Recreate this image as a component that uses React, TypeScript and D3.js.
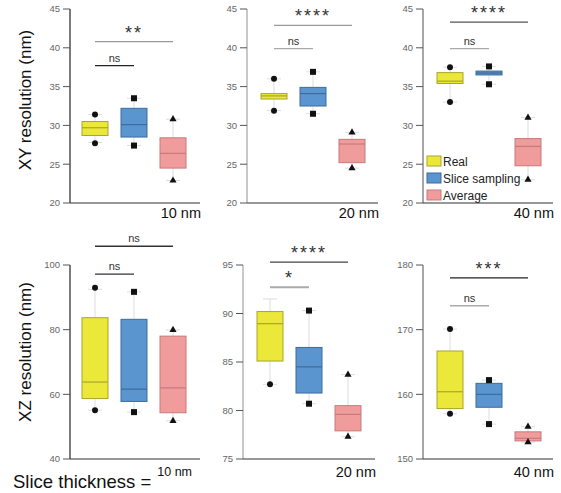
import React from 'react';
import * as d3 from 'd3';

// groups and colours
const groups = ['Real', 'Slice sampling', 'Average'];
const fills = ['#ece83a', '#5b95d0', '#f19c9c'];
const strokes = ['#a9a52c', '#3d6b9c', '#c57a7a'];
const shapes = ['circle', 'square', 'triangle'];

// tick values
const xyTicks = [20, 25, 30, 35, 40, 45];
const xz10Ticks = [40, 60, 80, 100];
const xz20Ticks = [75, 80, 85, 90, 95];
const xz40Ticks = [150, 160, 170, 180];

// box stats per group: [whisker low, q1, median, q3, whisker high]
const xy10Box = [[27.8, 28.7, 29.7, 30.5, 31.4], [27.4, 28.5, 30.1, 32.2, 33.5], [22.9, 24.5, 26.4, 28.4, 30.8]];
const xy20Box = [[31.9, 33.4, 33.8, 34.1, 36.0], [31.5, 32.5, 34.1, 34.9, 36.9], [24.5, 25.2, 27.6, 28.2, 29.1]];
const xy40Box = [[33.0, 35.4, 35.7, 36.8, 37.5], [35.3, 36.5, 36.75, 37.0, 37.6], [23.0, 24.8, 27.3, 28.3, 31.0]];
const xz10Box = [[55.1, 58.7, 63.8, 83.7, 92.5], [54.5, 57.8, 61.6, 83.2, 91.7], [51.8, 54.3, 62.0, 78.0, 79.9]];
const xz20Box = [[82.7, 85.1, 88.95, 90.2, 91.5], [80.7, 81.8, 84.5, 86.5, 90.3], [77.3, 77.9, 79.6, 80.5, 83.7]];
const xz40Box = [[157.0, 157.8, 160.4, 166.7, 170.1], [155.4, 158.0, 160.0, 161.7, 162.2], [152.6, 152.8, 153.2, 154.2, 155.0]];

// marker points (extremes) per group
const xy10Pts = [[31.4, 27.7], [33.5, 27.4], [30.8, 22.9]];
const xy20Pts = [[36.0, 31.9], [36.9, 31.5], [29.1, 24.5]];
const xy40Pts = [[37.5, 33.0], [37.6, 35.3], [31.0, 23.0]];
const xz10Pts = [[93.0, 55.1], [91.7, 54.5], [79.9, 51.8]];
const xz20Pts = [[82.7], [90.3, 80.7], [83.7, 77.3]];
const xz40Pts = [[170.1, 157.0], [162.2, 155.4], [155.0, 152.6]];

// significance brackets: [from group, to group, value, label, colour]
const xy10Sig = [[0, 2, 40.8, '**', '#999'], [0, 1, 37.7, 'ns', '#222']];
const xy20Sig = [[0, 2, 42.9, '****', '#999'], [0, 1, 39.9, 'ns', '#aaa']];
const xy40Sig = [[0, 2, 43.3, '****', '#555'], [0, 1, 39.9, 'ns', '#aaa']];
const xz10Sig = [[0, 2, 105.8, 'ns', '#333'], [0, 1, 97.2, 'ns', '#333']];
const xz20Sig = [[0, 2, 95.3, '****', '#444'], [0, 1, 92.7, '*', '#aaa']];
const xz40Sig = [[0, 2, 178, '***', '#222'], [0, 1, 173.7, 'ns', '#aaa']];

const thickness = ['10 nm', '20 nm', '40 nm'];

const FONT = '"Liberation Sans", Arial, sans-serif';

const panels = [
  { x0: 70, x1: 200, top: 9, bottom: 203, ticks: xyTicks, box: xy10Box, pts: xy10Pts, sig: xy10Sig, label: thickness[0], off: 25, axisColor: '#333' },
  { x0: 247, x1: 378, top: 9, bottom: 203, ticks: xyTicks, box: xy20Box, pts: xy20Pts, sig: xy20Sig, label: thickness[1], off: 27, axisColor: '#aaa' },
  { x0: 423, x1: 553, top: 9, bottom: 203, ticks: xyTicks, box: xy40Box, pts: xy40Pts, sig: xy40Sig, label: thickness[2], off: 27, axisColor: '#777', legend: true },
  { x0: 70, x1: 200, top: 265, bottom: 459, ticks: xz10Ticks, box: xz10Box, pts: xz10Pts, sig: xz10Sig, label: thickness[0], off: 25, axisColor: '#333', small: true },
  { x0: 243, x1: 375, top: 265, bottom: 459, ticks: xz20Ticks, box: xz20Box, pts: xz20Pts, sig: xz20Sig, label: thickness[1], off: 27, axisColor: '#aaa' },
  { x0: 423, x1: 553, top: 265, bottom: 459, ticks: xz40Ticks, box: xz40Box, pts: xz40Pts, sig: xz40Sig, label: thickness[2], off: 27, axisColor: '#777' },
];

const Marker = ({ shape, x, y }) => {
  if (shape === 'circle') return <circle cx={x} cy={y} r={3} fill="#111" />;
  if (shape === 'square') return <rect x={x - 3} y={y - 3} width={6} height={6} fill="#111" />;
  const tri = d3.symbol(d3.symbolTriangle, 22)();
  return <path d={tri} transform={`translate(${x},${y})`} fill="#111" />;
};

const Panel = ({ p }) => {
  const y = d3.scaleLinear().domain(d3.extent(p.ticks)).range([p.bottom, p.top]);
  const x = d3.scalePoint().domain(groups).range([p.x0 + p.off, p.x0 + p.off + 78]);
  const bw = 26;
  return (
    <g>
      {/* axes */}
      <line x1={p.x0} x2={p.x0} y1={p.top} y2={p.bottom} stroke={p.axisColor} strokeWidth={1.3} />
      <line x1={p.x0} x2={p.x1} y1={p.bottom} y2={p.bottom} stroke="#333" strokeWidth={1.2} />
      {p.ticks.map(t => (
        <g key={t}>
          <line x1={p.x0 - 7} x2={p.x0} y1={y(t)} y2={y(t)} stroke="#555" strokeWidth={1} />
          <text x={p.x0 - 10} y={y(t)} dy="0.35em" textAnchor="end" fontSize={9.5} fill="#666" fontFamily={FONT}>{t}</text>
        </g>
      ))}
      {/* boxes */}
      {groups.map((g, i) => {
        const [lo, q1, med, q3, hi] = p.box[i];
        const cx = x(g);
        return (
          <g key={g}>
            <line x1={cx} x2={cx} y1={y(hi)} y2={y(lo)} stroke="#ddd" strokeWidth={1} />
            <line x1={cx - 7} x2={cx + 7} y1={y(hi)} y2={y(hi)} stroke="#ddd" strokeWidth={1} />
            <line x1={cx - 7} x2={cx + 7} y1={y(lo)} y2={y(lo)} stroke="#ddd" strokeWidth={1} />
            <rect x={cx - bw / 2} y={y(q3)} width={bw} height={Math.max(1, y(q1) - y(q3))} fill={fills[i]} stroke={strokes[i]} strokeWidth={1} />
            <line x1={cx - bw / 2} x2={cx + bw / 2} y1={y(med)} y2={y(med)} stroke={strokes[i]} strokeWidth={1.2} />
            {p.pts[i].map((v, k) => <Marker key={k} shape={shapes[i]} x={cx} y={y(v)} />)}
          </g>
        );
      })}
      {/* significance */}
      {p.sig.map(([a, b, v, lab, col], k) => {
        const xa = x(groups[a]);
        const xb = x(groups[b]);
        const star = lab !== 'ns';
        return (
          <g key={k}>
            <line x1={xa} x2={xb} y1={y(v)} y2={y(v)} stroke={col} strokeWidth={lab === '*' ? 2 : 1.3} />
            <text x={(xa + xb) / 2} y={y(v) - (star ? 3 : 4)} textAnchor="middle" fontFamily={FONT}
              fontSize={star ? 18 : 11} letterSpacing={star ? 2 : 0} fill="#333">{lab}</text>
          </g>
        );
      })}
      {/* thickness label */}
      <text x={p.small ? 192 : p.x1 + 1} y={p.small ? 476 : p.bottom === 203 ? 218 : 477} textAnchor="end"
        fontSize={p.small ? 12.5 : 14.5} fill="#111" fontFamily={FONT}>{p.label}</text>
      {p.legend && groups.map((g, i) => (
        <g key={g}>
          <rect x={427} y={156 + i * 17} width={14} height={10} fill={fills[i]} stroke={strokes[i]} strokeWidth={1} />
          <text x={443} y={161 + i * 17} dy="0.38em" fontSize={12} fill="#222" fontFamily={FONT}>{g}</text>
        </g>
      ))}
    </g>
  );
};

export default function App() {
  return (
    <svg width={561} height={493} style={{ display: 'block', position: 'absolute', left: 0, top: 0, background: '#fff' }}>
      <rect width={561} height={493} fill="#fff" />
      {panels.map((p, i) => <Panel key={i} p={p} />)}
      <text transform="translate(31,100) rotate(-90)" textAnchor="middle" fontSize={17} fill="#111" fontFamily={FONT}>XY resolution (nm)</text>
      <text transform="translate(31,352) rotate(-90)" textAnchor="middle" fontSize={17} fill="#111" fontFamily={FONT}>XZ resolution (nm)</text>
      <text x={13} y={488} fontSize={18.5} fill="#111" fontFamily={FONT}>Slice thickness =</text>
    </svg>
  );
}
